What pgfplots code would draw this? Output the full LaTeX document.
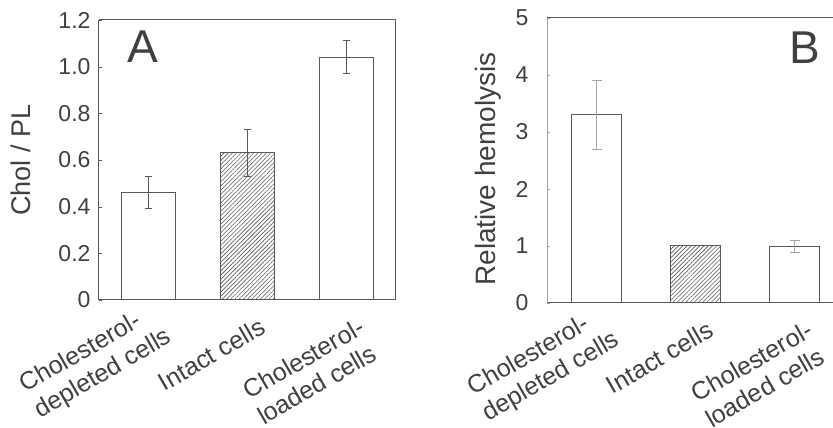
\documentclass[border=0pt]{standalone}
\usepackage{fontspec}
\setmainfont{Liberation Sans}
\usepackage{pgfplots}
\pgfplotsset{compat=1.18}
\usetikzlibrary{patterns.meta}

\definecolor{axgray}{HTML}{595959}
\definecolor{ltgray}{HTML}{A6A6A6}
\definecolor{txtgray}{HTML}{404040}

\pgfplotsset{
  panel/.style={
    scale only axis, width=297pt,
    xmin=-0.5, xmax=2.5,
    xtick={0,1,2}, xtick style={draw=none},
    separate axis lines,
    axis line style={line width=1pt},
    x axis line style={axgray},
    tick align=inside, ytick pos=left,
    major tick length=3pt,
    /pgf/number format/assume math mode=true,
    tick label style={font=\fontsize{23}{28}\selectfont, text=txtgray},
    label style={font=\fontsize{27}{32}\selectfont, text=txtgray},
    xticklabel style={font=\fontsize{25}{29}\selectfont,
      xshift={(\ticknum==0 ? 2 : 12)*1pt}, yshift={(\ticknum==0 ? 4 : -12)*1pt},
      rotate=30, anchor=north east, align=left},
    xticklabels={{Cholesterol-\\depleted cells},{Intact cells},{Cholesterol-\\loaded cells}},
  },
  whitebar/.style={ybar, bar shift=0pt, fill=white, draw=axgray, line width=1pt},
  hatchbar/.style={ybar, bar shift=0pt, draw=axgray, line width=1pt,
    pattern={Lines[angle=45, distance=3pt, line width=0.6pt]}, pattern color=axgray},
}

\begin{document}
\begin{tikzpicture}
% Panel A
\begin{axis}[panel,
  at={(99pt,128pt)}, anchor=south west, height=280pt,
  bar width=0.55,
  y axis line style={axgray}, ytick style={axgray},
  ymin=0, ymax=1.2,
  ytick={0,0.2,0.4,0.6,0.8,1.0,1.2},
  yticklabels={0,0.2,0.4,0.6,0.8,1.0,1.2},
  yticklabel style={xshift=-5pt},
  ylabel={Chol / PL},
  ylabel style={at={(axis description cs:-0.262,0.5)}, anchor=center},
  error bars/error bar style={axgray, line width=1pt},
  error bars/error mark options={rotate=90, mark size=3.5pt, axgray, line width=1pt},
]
\addplot[whitebar, error bars/.cd, y dir=both, y explicit]
  coordinates {(0,0.46) +- (0,0.07) (2,1.04) +- (0,0.07)};
\addplot[hatchbar, error bars/.cd, y dir=both, y explicit]
  coordinates {(1,0.63) +- (0,0.10)};
\node[font=\fontsize{46}{50}\selectfont, text=txtgray] at (rel axis cs:0.148,0.904) {A};
\end{axis}
% Panel B
\begin{axis}[panel,
  at={(547pt,125pt)}, anchor=south west, height=285pt,
  bar width=0.5,
  y axis line style={ltgray}, ytick style={ltgray},
  ymin=0, ymax=5, ytick={0,1,2,3,4,5},
  yticklabel style={xshift=-15pt},
  ylabel={Relative hemolysis},
  ylabel style={at={(axis description cs:-0.199,0.47)}, anchor=center,
    font=\fontsize{28}{32}\selectfont},
  error bars/error bar style={ltgray, line width=1pt},
  error bars/error mark options={rotate=90, mark size=5pt, ltgray, line width=1pt},
]
\addplot[whitebar, error bars/.cd, y dir=both, y explicit]
  coordinates {(0,3.3) +- (0,0.6) (2,0.99) +- (0,0.1)};
\addplot[hatchbar]
  coordinates {(1,1.0)};
\node[font=\fontsize{46}{50}\selectfont, text=txtgray] at (rel axis cs:0.869,0.895) {B};
\end{axis}
\pgfresetboundingbox
\useasboundingbox (0,0) rectangle (833pt,428pt);
\end{tikzpicture}
\end{document}
